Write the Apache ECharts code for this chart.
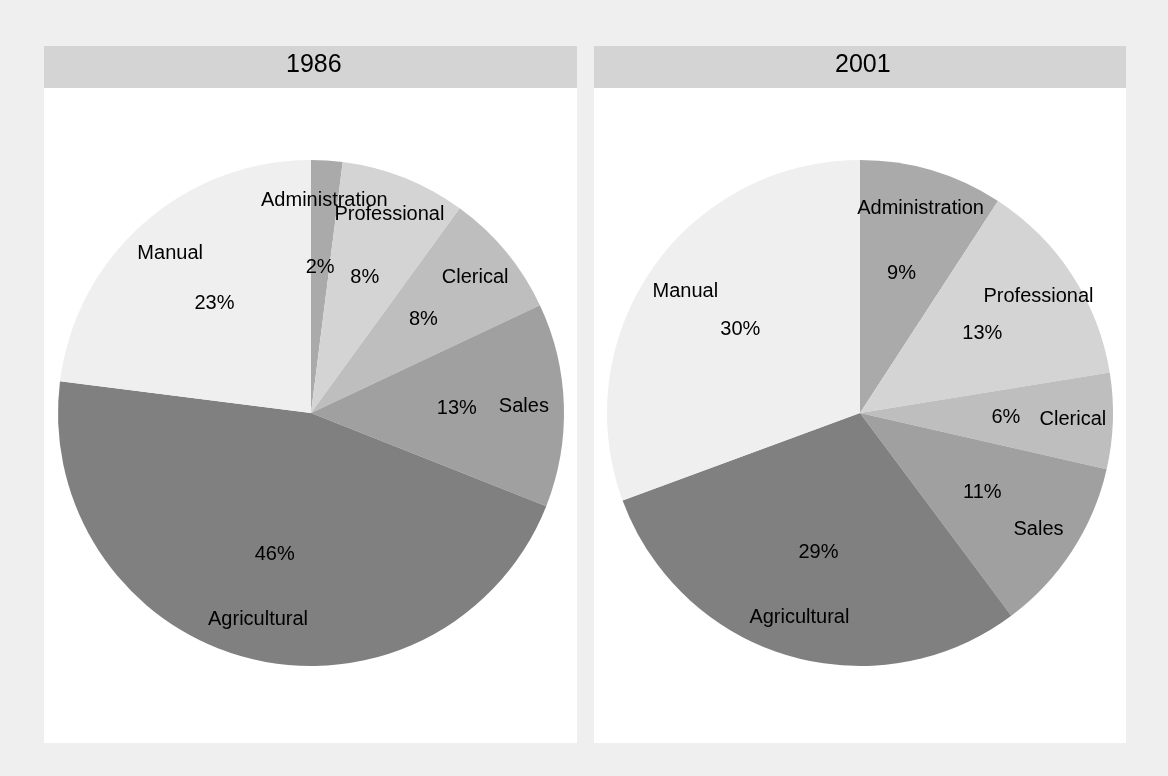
<!DOCTYPE html>
<html><head><meta charset="utf-8">
<script src="https://cdn.jsdelivr.net/npm/echarts@6/dist/echarts.min.js"></script>
<style>html,body{margin:0;padding:0;background:#efefef}#c{width:1168px;height:776px}</style>
</head><body><div id="c"></div>
<script>
const categories = ['Administration','Professional','Clerical','Sales','Agricultural','Manual'];
const values1986 = [2, 8, 8, 13, 46, 23];
const values2001 = [9, 13, 6, 11, 29, 30];
const years = ['1986','2001'];
const colors = ['#aaaaaa','#d4d4d4','#bebebe','#a0a0a0','#808080','#efefef'];
const R = 253;
const font = 'Liberation Sans, Arial, sans-serif';
const chart = echarts.init(document.getElementById('c'));
const centers = [[311,413],[860,413]];
const series = [];
[values1986, values2001].forEach((vals, i) => {
  const data = categories.map((c, k) => ({name: c, value: vals[k], itemStyle: {color: colors[k]}}));
  series.push({type:'pie', center: centers[i], radius:[0,R], startAngle:90, clockwise:true,
    data, label:{show:false}, labelLine:{show:false}, silent:true, animation:false,
    itemStyle:{borderWidth:0}});
  series.push({type:'pie', center: centers[i], radius:[0,R*1.13], startAngle:90, clockwise:true,
    avoidLabelOverlap:false, labelLayout:{hideOverlap:false},
    data: data.map(d=>({name:d.name,value:d.value,itemStyle:{color:'rgba(0,0,0,0)'}})),
    label:{show:true, position:'inside', formatter: p=>p.value+'%', color:'#000', fontSize:20, fontFamily:font},
    labelLine:{show:false}, silent:true, animation:false, z:3});
  series.push({type:'pie', center: centers[i], radius:[0,R*1.66], startAngle:90, clockwise:true,
    avoidLabelOverlap:false, labelLayout:{hideOverlap:false},
    data: data.map(d=>({name:d.name,value:d.value,itemStyle:{color:'rgba(0,0,0,0)'}})),
    label:{show:true, position:'inside', formatter: '{b}', color:'#000', fontSize:20, fontFamily:font},
    labelLine:{show:false}, silent:true, animation:false, z:3});
});
chart.setOption({
  backgroundColor:'#efefef',
  graphic:[
    {type:'rect', shape:{x:44,y:46,width:533,height:697}, style:{fill:'#fff'}, z:-10},
    {type:'rect', shape:{x:594,y:46,width:532,height:697}, style:{fill:'#fff'}, z:-10},
    {type:'rect', shape:{x:44,y:46,width:533,height:42}, style:{fill:'#d4d4d4'}, z:-9},
    {type:'rect', shape:{x:594,y:46,width:532,height:42}, style:{fill:'#d4d4d4'}, z:-9},
    {type:'text', left:286, top:53, style:{text:years[0], fill:'#000', font:'25px '+font}},
    {type:'text', left:835, top:53, style:{text:years[1], fill:'#000', font:'25px '+font}}
  ],
  series
});
</script></body></html>
